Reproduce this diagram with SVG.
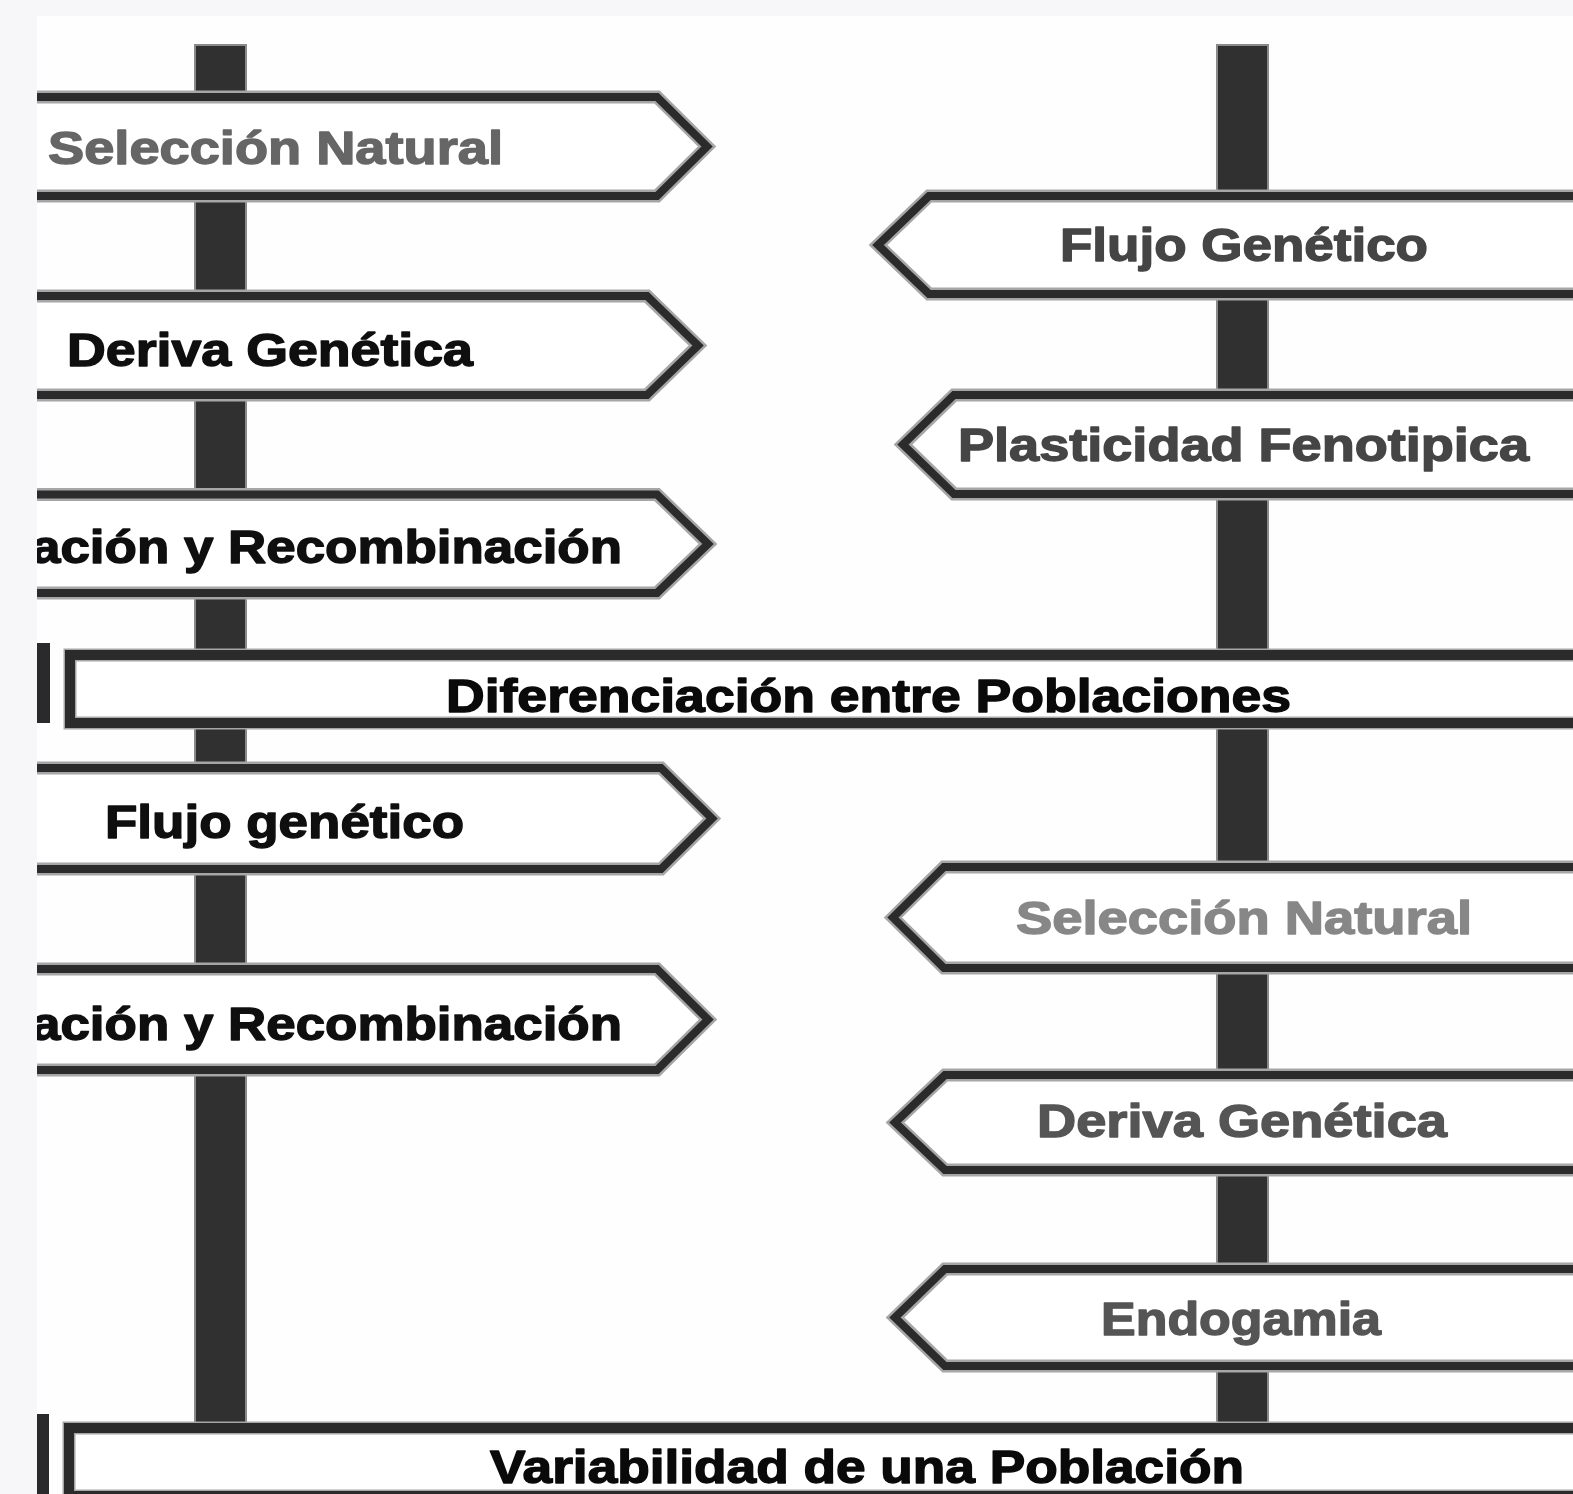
<svg xmlns="http://www.w3.org/2000/svg" width="1573" height="1494" viewBox="0 0 1573 1494">
<style>
.halo{fill:#ffffff;stroke:#a6a6a6;stroke-width:13;stroke-linejoin:miter}
.line{fill:none;stroke:#2b2b2b;stroke-width:8;stroke-linejoin:miter}
.post{fill:#303030;stroke:#8a8a8a;stroke-width:2}
.bar{fill:#2a2a2a}
.lbl{font-family:"Liberation Sans",Arial,sans-serif;font-weight:bold;font-size:46px;stroke-width:1.4;stroke-linejoin:round}
.big{font-family:"Liberation Sans",Arial,sans-serif;font-weight:bold;font-size:46px;fill:#0a0a0a;stroke:#0a0a0a;stroke-width:1.4;stroke-linejoin:round}
</style>
<rect x="0" y="0" width="1573" height="1494" fill="#fefefe"/>
<g id="connectors">
  <rect class="post" x="195" y="45" width="51" height="1378"/>
  <rect class="post" x="1217" y="45" width="51" height="1378"/>
</g>
<g id="l1">
  <path class="halo" d="M10 97 L657 97 L707 146.5 L657 196 L10 196 Z"/>
  <path class="line" d="M10 97 L657 97 L707 146.5 L657 196 L10 196"/>
  <text class="lbl" x="48" y="164" fill="#666666" stroke="#666666" textLength="455" lengthAdjust="spacingAndGlyphs">Selección Natural</text>
</g>
<g id="l2">
  <path class="halo" d="M10 296 L647 296 L698 345.5 L647 395 L10 395 Z"/>
  <path class="line" d="M10 296 L647 296 L698 345.5 L647 395 L10 395"/>
  <text class="lbl" x="67" y="366" fill="#0f0f0f" stroke="#0f0f0f" textLength="406" lengthAdjust="spacingAndGlyphs">Deriva Genética</text>
</g>
<g id="l3">
  <path class="halo" d="M10 494.5 L657 494.5 L708 544 L657 593 L10 593 Z"/>
  <path class="line" d="M10 494.5 L657 494.5 L708 544 L657 593 L10 593"/>
  <text class="lbl" x="31" y="563" fill="#0f0f0f" stroke="#0f0f0f" textLength="591" lengthAdjust="spacingAndGlyphs">ación y Recombinación</text>
</g>
<g id="l4">
  <path class="halo" d="M10 768 L661 768 L712 818.5 L661 869 L10 869 Z"/>
  <path class="line" d="M10 768 L661 768 L712 818.5 L661 869 L10 869"/>
  <text class="lbl" x="105" y="838" fill="#0f0f0f" stroke="#0f0f0f" textLength="359" lengthAdjust="spacingAndGlyphs">Flujo genético</text>
</g>
<g id="l5">
  <path class="halo" d="M10 969 L657 969 L708 1019.5 L657 1070 L10 1070 Z"/>
  <path class="line" d="M10 969 L657 969 L708 1019.5 L657 1070 L10 1070"/>
  <text class="lbl" x="31" y="1040" fill="#0f0f0f" stroke="#0f0f0f" textLength="591" lengthAdjust="spacingAndGlyphs">ación y Recombinación</text>
</g>
<g id="r1">
  <path class="halo" d="M1590 196 L929 196 L878 245 L929 294 L1590 294 Z"/>
  <path class="line" d="M1590 196 L929 196 L878 245 L929 294 L1590 294"/>
  <text class="lbl" x="1060" y="261" fill="#454545" stroke="#454545" textLength="368" lengthAdjust="spacingAndGlyphs">Flujo Genético</text>
</g>
<g id="r2">
  <path class="halo" d="M1590 395 L954 395 L903 444.5 L954 494 L1590 494 Z"/>
  <path class="line" d="M1590 395 L954 395 L903 444.5 L954 494 L1590 494"/>
  <text class="lbl" x="958" y="461" fill="#454545" stroke="#454545" textLength="571" lengthAdjust="spacingAndGlyphs">Plasticidad Fenotipica</text>
</g>
<g id="r3">
  <path class="halo" d="M1590 867 L944 867 L893 917.5 L944 968 L1590 968 Z"/>
  <path class="line" d="M1590 867 L944 867 L893 917.5 L944 968 L1590 968"/>
  <text class="lbl" x="1016" y="934" fill="#878787" stroke="#878787" textLength="456" lengthAdjust="spacingAndGlyphs">Selección Natural</text>
</g>
<g id="r4">
  <path class="halo" d="M1590 1075 L945 1075 L895 1122.5 L945 1170 L1590 1170 Z"/>
  <path class="line" d="M1590 1075 L945 1075 L895 1122.5 L945 1170 L1590 1170"/>
  <text class="lbl" x="1037" y="1137" fill="#555555" stroke="#555555" textLength="410" lengthAdjust="spacingAndGlyphs">Deriva Genética</text>
</g>
<g id="r5">
  <path class="halo" d="M1590 1269 L945 1269 L895 1317.5 L945 1366 L1590 1366 Z"/>
  <path class="line" d="M1590 1269 L945 1269 L895 1317.5 L945 1366 L1590 1366"/>
  <text class="lbl" x="1101" y="1335" fill="#555555" stroke="#555555" textLength="280" lengthAdjust="spacingAndGlyphs">Endogamia</text>
</g>
<g id="diferenciacion">
  <rect class="bar" x="37" y="643" width="13" height="80"/>
  <rect class="halo" x="70" y="655" width="1530" height="68"/>
  <rect class="line" x="70" y="655" width="1530" height="68" style="stroke-width:10"/>
  <text class="big" x="446" y="712" textLength="845" lengthAdjust="spacingAndGlyphs">Diferenciación entre Poblaciones</text>
</g>
<g id="variabilidad">
  <rect class="bar" x="37" y="1414" width="12" height="90"/>
  <rect class="halo" x="69" y="1428" width="1530" height="68"/>
  <rect class="line" x="69" y="1428" width="1530" height="68" style="stroke-width:10"/>
  <text class="big" x="490" y="1483" textLength="754" lengthAdjust="spacingAndGlyphs">Variabilidad de una Población</text>
</g>
<rect x="0" y="0" width="37" height="1494" fill="#f7f7fa"/>
<rect x="0" y="0" width="1573" height="16" fill="#f7f7fa"/>
</svg>
